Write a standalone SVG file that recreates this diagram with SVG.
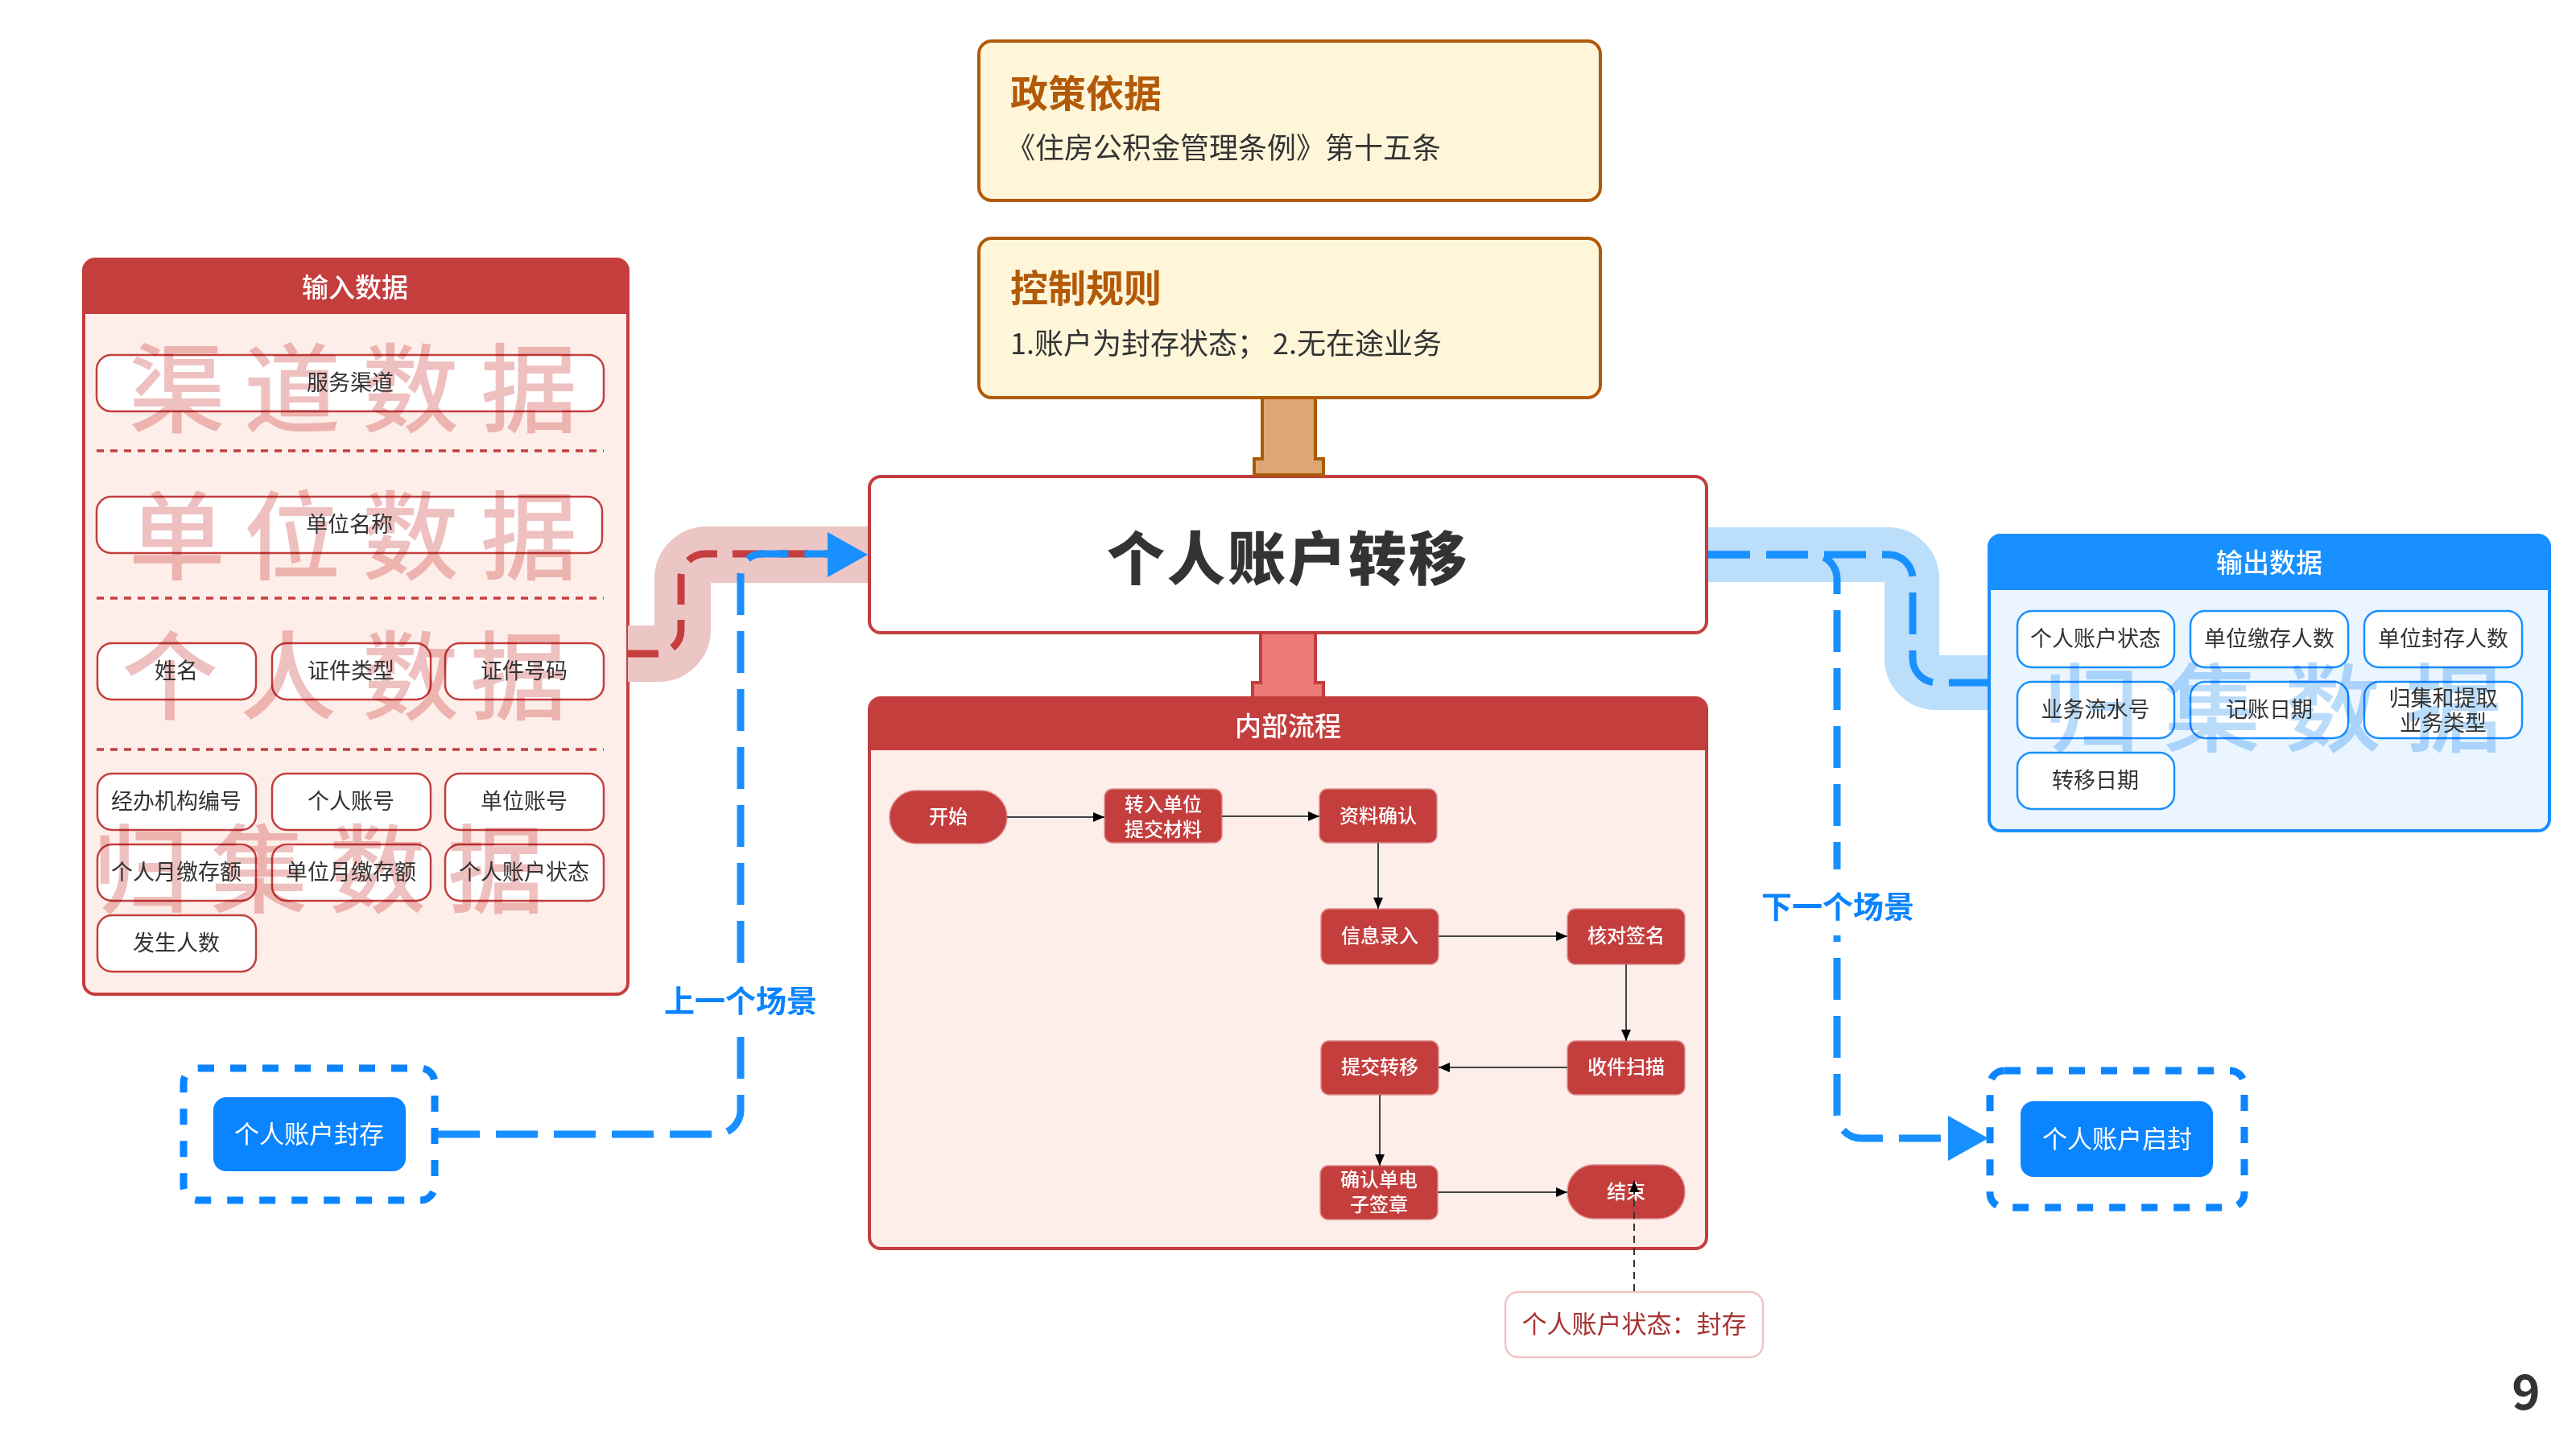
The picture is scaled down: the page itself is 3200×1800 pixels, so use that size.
<svg xmlns="http://www.w3.org/2000/svg" width="3200" height="1800" viewBox="0 0 3200 1800">
<style>
text{font-family:"Noto Sans CJK SC","Noto Sans",sans-serif;}
.item{fill:#fff;stroke:#C43E3E;stroke-width:2.5;}
.itemb{fill:#fff;stroke:#1890FF;stroke-width:2.5;}
.it{font-size:27px;fill:#333;text-anchor:middle;}
.hd{font-size:33px;fill:#fff;text-anchor:middle;font-weight:500;}
.dot{stroke:#C43E3E;stroke-width:3.5;stroke-dasharray:9 8;fill:none;}
.wmr{font-size:120px;font-weight:500;fill:#EFC0C0;mix-blend-mode:multiply;}
.wmb{font-size:120px;font-weight:500;fill:#B9DCFB;mix-blend-mode:multiply;}
.fn{fill:#C43E3E;stroke:#DE8E8E;stroke-width:1.5;}
.ft{font-size:24px;fill:#fff;text-anchor:middle;font-weight:500;}
.fl{stroke:#444;stroke-width:2;fill:none;marker-end:url(#ah);}
.card{fill:#FFF6DA;stroke:#B05A0A;stroke-width:4;}
.ct{font-size:47px;font-weight:700;fill:#B35A09;}
.cs{font-size:36px;fill:#333;}
.bd{fill:none;stroke:#1890FF;stroke-width:9;stroke-dasharray:52 20;}
.lbl{font-size:38px;font-weight:700;fill:#0A84FF;text-anchor:middle;}
.db{fill:none;stroke:#0A84FF;stroke-width:9;stroke-dasharray:20 20;}
.bt{font-size:31px;fill:#fff;text-anchor:middle;}
</style>
<defs>
<marker id="ah" markerUnits="userSpaceOnUse" markerWidth="14" markerHeight="12" refX="14" refY="6" orient="auto"><path d="M0,0 L14,6 L0,12 z" fill="#000"/></marker>
</defs>
<rect width="3200" height="1800" fill="#fff"/>

<!-- policy -->
<g id="policy">
<rect x="1216" y="51" width="772" height="198" rx="16" class="card"/>
<text x="1255" y="133" class="ct">政策依据</text>
<text x="1250" y="197" class="cs">《住房公积金管理条例》第十五条</text>
</g>
<g id="rules">
<rect x="1216" y="296" width="772" height="198" rx="16" class="card"/>
<text x="1255" y="375" class="ct">控制规则</text>
<text x="1255" y="440" class="cs">1.账户为封存状态； 2.无在途业务</text>
</g>

<!-- main -->
<g id="main">
<rect x="1080" y="592" width="1040" height="194" rx="14" fill="#fff" stroke="#C43E3E" stroke-width="4"/>
<text x="1600" y="720" text-anchor="middle" font-size="72" font-weight="900" letter-spacing="3" fill="#333">个人账户转移</text>
</g>

<!-- input data -->
<g id="input">
<rect x="104" y="322" width="676" height="913" rx="14" fill="#FDEEE9" stroke="#C43E3E" stroke-width="4"/>
<path d="M104,390 V336 A14,14 0 0 1 118,322 H766 A14,14 0 0 1 780,336 V390 Z" fill="#C43E3E"/>
<text x="441" y="369" class="hd">输入数据</text>
<line x1="120" y1="560" x2="750" y2="560" class="dot"/>
<line x1="120" y1="743" x2="750" y2="743" class="dot"/>
<line x1="120" y1="931" x2="750" y2="931" class="dot"/>
<g id="in-channel"><rect x="120" y="441" width="630" height="70" rx="18" class="item"/></g>
<g id="in-unit"><rect x="120" y="617" width="628" height="70" rx="18" class="item"/></g>
<g id="in-boxes">
<rect x="121" y="799" width="197" height="70" rx="18" class="item"/>
<rect x="338" y="799" width="197" height="70" rx="18" class="item"/>
<rect x="553" y="799" width="197" height="70" rx="18" class="item"/>
<rect x="121" y="961" width="197" height="70" rx="18" class="item"/>
<rect x="338" y="961" width="197" height="70" rx="18" class="item"/>
<rect x="553" y="961" width="197" height="70" rx="18" class="item"/>
<rect x="121" y="1049" width="197" height="70" rx="18" class="item"/>
<rect x="338" y="1049" width="197" height="70" rx="18" class="item"/>
<rect x="553" y="1049" width="197" height="70" rx="18" class="item"/>
<rect x="121" y="1137" width="197" height="70" rx="18" class="item"/>
</g>
<g id="in-watermarks">
<text class="wmr" x="160 303 450 597" y="528">渠道数据</text>
<text class="wmr" x="160 303 450 597" y="711">单位数据</text>
<text class="wmr" x="151 298 450 584" y="885">个人数据</text>
<text class="wmr" x="115 262 409 556" y="1125">归集数据</text>
</g>
<g id="in-texts">
<text x="435" y="485" class="it">服务渠道</text>
<text x="434" y="661" class="it">单位名称</text>
<text x="219" y="843" class="it">姓名</text>
<text x="436" y="843" class="it">证件类型</text>
<text x="651" y="843" class="it">证件号码</text>
<text x="219" y="1005" class="it">经办机构编号</text>
<text x="436" y="1005" class="it">个人账号</text>
<text x="651" y="1005" class="it">单位账号</text>
<text x="219" y="1093" class="it">个人月缴存额</text>
<text x="436" y="1093" class="it">单位月缴存额</text>
<text x="651" y="1093" class="it">个人账户状态</text>
<text x="219" y="1181" class="it">发生人数</text>
</g>
</g>

<!-- output data -->
<g id="output">
<rect x="2471" y="665" width="696" height="367" rx="14" fill="#EAF5FF" stroke="#1890FF" stroke-width="4"/>
<path d="M2471,733 V679 A14,14 0 0 1 2485,665 H3153 A14,14 0 0 1 3167,679 V733 Z" fill="#1890FF"/>
<text x="2819" y="711" class="hd">输出数据</text>
<rect x="2506" y="759" width="195" height="70" rx="18" class="itemb"/>
<rect x="2721" y="759" width="196" height="70" rx="18" class="itemb"/>
<rect x="2937" y="759" width="196" height="70" rx="18" class="itemb"/>
<rect x="2506" y="847" width="195" height="70" rx="18" class="itemb"/>
<rect x="2721" y="847" width="196" height="70" rx="18" class="itemb"/>
<rect x="2937" y="847" width="196" height="70" rx="18" class="itemb"/>
<rect x="2506" y="935" width="195" height="70" rx="18" class="itemb"/>
<text class="wmb" x="2538 2688 2838 2988" y="925">归集数据</text>
<text x="2603" y="803" class="it">个人账户状态</text>
<text x="2819" y="803" class="it">单位缴存人数</text>
<text x="3035" y="803" class="it">单位封存人数</text>
<text x="2603" y="891" class="it">业务流水号</text>
<text x="2819" y="891" class="it">记账日期</text>
<text x="3035" y="877" class="it">归集和提取</text>
<text x="3035" y="908" class="it">业务类型</text>
<text x="2603" y="979" class="it">转移日期</text>
</g>

<!-- internal process -->
<g id="process">
<rect x="1080" y="867" width="1040" height="684" rx="14" fill="#FDEEE9" stroke="#C43E3E" stroke-width="4"/>
<path d="M1080,932 V881 A14,14 0 0 1 1094,867 H2106 A14,14 0 0 1 2120,881 V932 Z" fill="#C43E3E"/>
<text x="1600" y="914" class="hd">内部流程</text>
</g>
<g id="f-start"><rect x="1105" y="982" width="146" height="66" rx="33" class="fn"/><text x="1178" y="1023" class="ft">开始</text></g>
<g id="f-submit"><rect x="1372" y="980" width="146" height="67" rx="10" class="fn"/><text x="1445" y="1008" class="ft">转入单位</text><text x="1445" y="1039" class="ft">提交材料</text></g>
<g id="f-confirm"><rect x="1639" y="980" width="146" height="67" rx="10" class="fn"/><text x="1712" y="1022" class="ft">资料确认</text></g>
<g id="f-input"><rect x="1641" y="1129" width="146" height="69" rx="10" class="fn"/><text x="1714" y="1171" class="ft">信息录入</text></g>
<g id="f-sign"><rect x="1947" y="1129" width="146" height="69" rx="10" class="fn"/><text x="2020" y="1171" class="ft">核对签名</text></g>
<g id="f-scan"><rect x="1947" y="1293" width="146" height="67" rx="10" class="fn"/><text x="2020" y="1334" class="ft">收件扫描</text></g>
<g id="f-transfer"><rect x="1641" y="1293" width="146" height="67" rx="10" class="fn"/><text x="1714" y="1334" class="ft">提交转移</text></g>
<g id="f-esign"><rect x="1640" y="1448" width="146" height="67" rx="10" class="fn"/><text x="1713" y="1474" class="ft">确认单电</text><text x="1713" y="1505" class="ft">子签章</text></g>
<g id="f-end"><rect x="1947" y="1447" width="146" height="67" rx="33" class="fn"/><text x="2020" y="1489" class="ft">结束</text></g>
<g id="state">
<rect x="1870" y="1605" width="320" height="81" rx="16" fill="#fff" stroke="#EFC5C5" stroke-width="2.5"/>
<text x="2030" y="1656" text-anchor="middle" font-size="31" fill="#A83232">个人账户状态：封存</text>
</g>

<!-- scene boxes -->
<g id="prev-scene">
<rect x="228" y="1327" width="312" height="164" rx="18" class="db"/>
<rect x="265" y="1363" width="239" height="92" rx="16" fill="#0A84FF"/>
<text x="384" y="1420" class="bt">个人账户封存</text>
</g>
<g id="next-scene">
<rect x="2472" y="1330" width="316" height="170" rx="18" class="db"/>
<rect x="2510" y="1368" width="239" height="94" rx="16" fill="#0A84FF"/>
<text x="2630" y="1426" class="bt">个人账户启封</text>
</g>

<!-- connectors -->
<g id="connectors">
<path d="M780,812 H818 A30,30 0 0 0 848,782 V719 A30,30 0 0 1 878,689 H1078" fill="none" stroke="#ECC5C5" stroke-width="70"/>
<path d="M780,812 H816 A30,30 0 0 0 846,782 V718 A30,30 0 0 1 876,688 H1078" fill="none" stroke="#C43E3E" stroke-width="9" stroke-dasharray="38 19"/>
<path d="M544,1409 H890 A30,30 0 0 0 920,1379 V714 A26,26 0 0 1 946,688 H1030" class="bd"/>
<polygon points="1028,661 1078,689 1028,717" fill="#1890FF"/>
<path d="M2122,689 H2345 A30,30 0 0 1 2375,719 V818 A30,30 0 0 0 2405,848 H2469" fill="none" stroke="#BBDEFB" stroke-width="68"/>
<path d="M2122,689 H2346 A30,30 0 0 1 2376,719 V818 A30,30 0 0 0 2406,848 H2469" class="bd"/>
<path d="M2122,689 H2252 A30,30 0 0 1 2282,719 V1384 A30,30 0 0 0 2312,1414 H2422" class="bd"/>
<polygon points="2420,1386 2470,1414 2420,1442" fill="#1890FF"/>
<path d="M1568,496 V570 H1558 V590 H1644 V570 H1634 V496" fill="#DEA673" stroke="#A95A0B" stroke-width="4"/>
<path d="M1566,788 V848 H1556 V867 H1644 V848 H1634 V788" fill="#EC7B78" stroke="#C43E3E" stroke-width="4"/>
<rect x="815" y="1200" width="210" height="80" fill="#fff"/>
<text x="920" y="1257" class="lbl">上一个场景</text>
<rect x="2178" y="1080" width="210" height="82" fill="#fff"/>
<text x="2283" y="1140" class="lbl">下一个场景</text>
<line x1="1251" y1="1015" x2="1372" y2="1015" class="fl"/>
<line x1="1518" y1="1014" x2="1639" y2="1014" class="fl"/>
<line x1="1712" y1="1047" x2="1712" y2="1129" class="fl"/>
<line x1="1787" y1="1163" x2="1947" y2="1163" class="fl"/>
<line x1="2020" y1="1198" x2="2020" y2="1293" class="fl"/>
<line x1="1947" y1="1326" x2="1787" y2="1326" class="fl"/>
<line x1="1714" y1="1360" x2="1714" y2="1448" class="fl"/>
<line x1="1786" y1="1481" x2="1947" y2="1481" class="fl"/>
<line x1="2030" y1="1604" x2="2030" y2="1467" stroke="#333" stroke-width="2" stroke-dasharray="9 6" marker-end="url(#ah)"/>
</g>

<text x="3138" y="1751" text-anchor="middle" font-size="60" font-weight="700" fill="#333">9</text>
</svg>
